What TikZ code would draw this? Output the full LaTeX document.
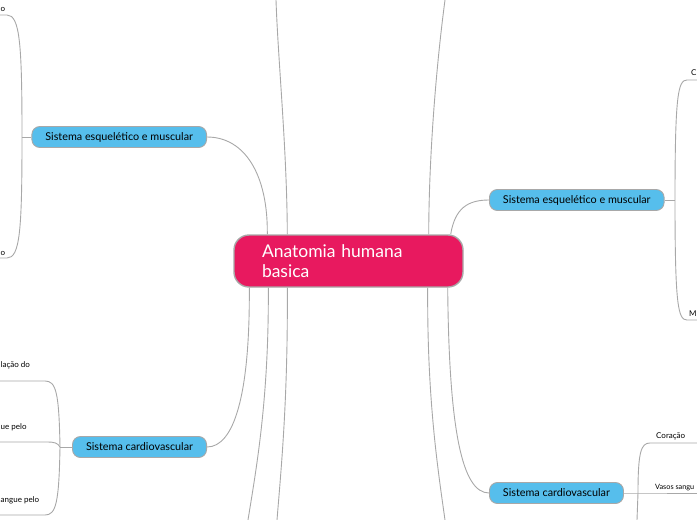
\documentclass[tikz,border=0pt]{standalone}
\usepackage{fontspec}
\setmainfont{Lato}
\definecolor{rootpink}{HTML}{E8195F}
\definecolor{topicblue}{HTML}{56BEEC}
\definecolor{edgegray}{HTML}{A8A8A8}
\begin{document}
\begin{tikzpicture}[x=1pt,y=-1pt,
    edge/.style={draw=edgegray,line width=0.9pt},
    root/.style={draw=edgegray,line width=1.4pt,fill=rootpink,text=white,rounded corners=15pt,
        minimum width=229pt,minimum height=52pt,inner xsep=28pt,text width=173pt,align=left,
        font=\fontsize{17.5}{20}\selectfont},
    topic/.style={draw=edgegray,line width=0.9pt,fill=topicblue,rounded corners=8pt,
        minimum height=21pt,inner xsep=13.5pt,font=\fontsize{10.8}{12}\selectfont},
    leaf/.style={inner sep=0pt,font=\fontsize{8}{9}\selectfont}]
        \useasboundingbox (0,0) rectangle (697,520);

        % Nodes
        \node[root] (root) at (348.5,261) {Anatomia humana\\basica};
        \node[topic,anchor=east] (lesq) at (207,137) {Sistema esquelético e muscular};
        \node[topic,anchor=east] (lcv) at (207,447) {Sistema cardiovascular};
        \node[topic,anchor=west] (resq) at (489,200) {Sistema esquelético e muscular};
        \node[topic,anchor=west] (rcv) at (489,493) {Sistema cardiovascular};

        % Joints and free ends
        \coordinate (lesqJ) at (22,137);
        \coordinate (lcvJ) at (60,447);
        \coordinate (resqJ) at (675,200);
        \coordinate (rcvJ) at (638,493);
        \coordinate (topL) at (276,0);
        \coordinate (topR) at (445,0);
        \coordinate (botL) at (248,520);
        \coordinate (botM) at (277,520);
        \coordinate (botR) at (445,520);

        % Connections
        \draw[edge] ([xshift=34pt]root.north west) .. controls (268,175) and (245,137) .. (lesq.east);
        \draw[edge] ([xshift=54pt]root.north west) .. controls (287,150) and (278,60) .. (topL);
        \draw[edge] ([xshift=-35pt]root.north east) .. controls (429,150) and (437,60) .. (topR);
        \draw[edge] ([xshift=-13pt]root.north east) .. controls (455,208) and (468,200) .. (resq.west);
        \draw[edge] ([xshift=16pt]root.south west) .. controls (250,395) and (234,447) .. (lcv.east);
        \draw[edge] ([xshift=35pt]root.south west) .. controls (269,400) and (256,470) .. (botL);
        \draw[edge] ([xshift=54pt]root.south west) .. controls (288,400) and (281,470) .. (botM);
        \draw[edge] ([xshift=-36pt]root.south east) .. controls (427,400) and (438,470) .. (botR);
        \draw[edge] ([xshift=-16pt]root.south east) .. controls (449,430) and (462,493) .. (rcv.west);

        % Left branches
        \draw[edge] (lesq.west) -- (lesqJ);
        \draw[edge] (lesqJ) .. controls (22,45) and (20,15) .. (7,15) -- (0,15);
        \draw[edge] (lesqJ) .. controls (22,230) and (20,258) .. (7,258) -- (0,258);
        \draw[edge] (lcv.west) -- (lcvJ);
        \draw[edge] (lcvJ) .. controls (59,392) and (56,381) .. (45,381) -- (0,381);
        \draw[edge] (lcvJ) .. controls (58,443) and (54,442) .. (48,442) -- (0,442);
        \draw[edge] (lcvJ) .. controls (59,503) and (56,515) .. (45,515) -- (0,515);

        % Right branches
        \draw[edge] (resq.east) -- (resqJ);
        \draw[edge] (resqJ) .. controls (675,95) and (678,80) .. (687,80) -- (697,80);
        \draw[edge] (resqJ) .. controls (675,305) and (678,320) .. (687,320) -- (697,320);
        \draw[edge] (rcv.east) -- (rcvJ) -- (697,493);
        \draw[edge] (rcvJ) .. controls (638,452) and (641,443) .. (650,443) -- (697,443);
        \draw[edge] (rcvJ) -- (637,520);

        % Labels
        \node[leaf,anchor=base west] (l1) at (0.5,11) {o};
        \node[leaf,anchor=base west] (l2) at (0.5,255) {o};
        \node[leaf,anchor=base west] (l3) at (0.5,367) {lação do};
        \node[leaf,anchor=base west] (l4) at (0.5,429) {ue pelo};
        \node[leaf,anchor=base west] (l5) at (0.5,502) {angue pelo};
        \node[leaf,anchor=base west] (r1) at (691,75) {C};
        \node[leaf,anchor=base west] (r2) at (689,316) {M};
        \node[leaf,anchor=base west] (r3) at (656,438) {Coração};
        \node[leaf,anchor=base west,font=\fontsize{7.3}{9}\selectfont] (r4) at (655,489) {Vasos sangu};
    \end{tikzpicture}
\end{document}
